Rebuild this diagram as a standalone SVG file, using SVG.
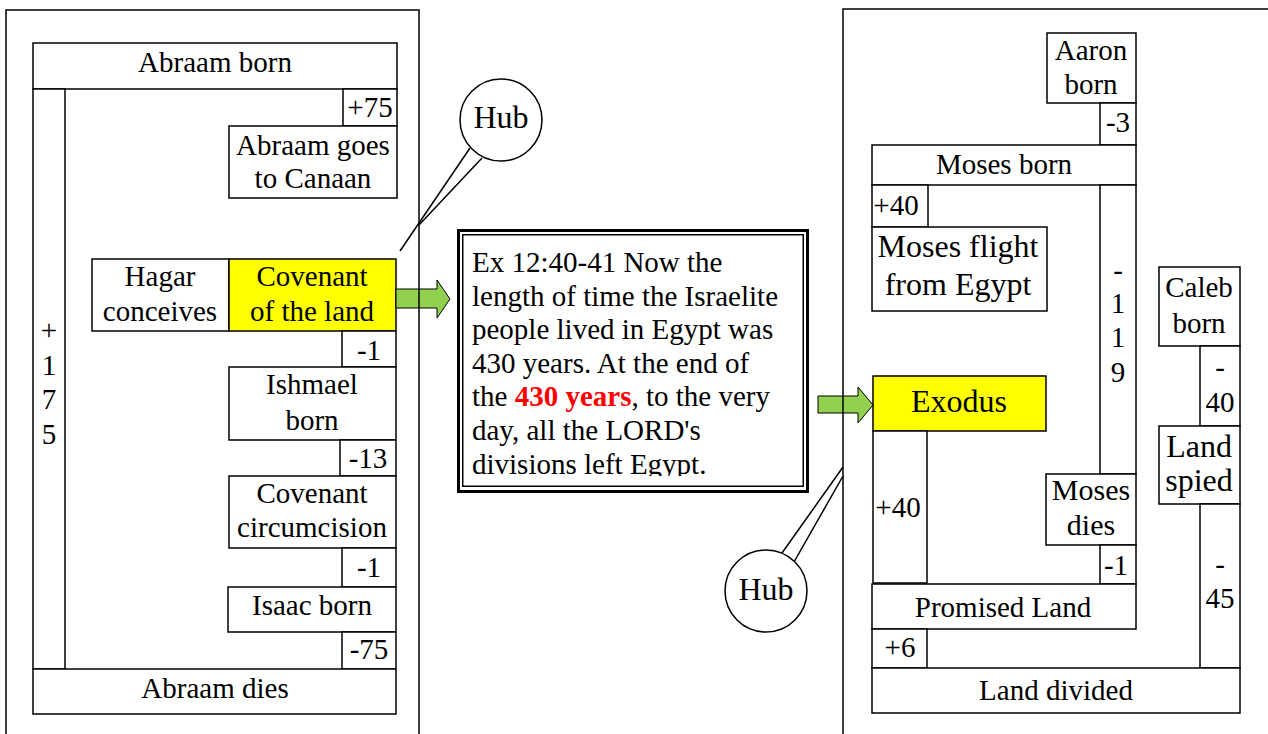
<svg xmlns="http://www.w3.org/2000/svg" width="1268" height="734" viewBox="0 0 1268 734">
<style>
text{font-family:"Liberation Serif","Times New Roman",serif;font-size:29px;fill:#000}
.c{text-anchor:middle}
.big{font-size:32px}
.b{fill:#fff;stroke:#000;stroke-width:1.5}
.y{fill:#ffff00;stroke:#000;stroke-width:1.5}
.f{fill:none;stroke:#000;stroke-width:1.5}
.ar{fill:#92d050;stroke:#000;stroke-width:1}
.ln{stroke:#000;stroke-width:1.5;fill:none}
.red{fill:#ff0000;font-weight:bold}
</style>
<defs>
<clipPath id="clipText"><rect x="463" y="235" width="340" height="241"/></clipPath>
</defs>
<rect width="1268" height="734" fill="#fff"/>

<g id="abraam-born"><rect class="b" x="33" y="43" width="364" height="46"/><text class="c" x="215" y="72">Abraam born</text></g>
<g id="bar-175"><rect class="b" x="33" y="89" width="32" height="580"/>
<text class="c" x="49" y="340">+</text><text class="c" x="49" y="375">1</text><text class="c" x="49" y="409">7</text><text class="c" x="49" y="444">5</text></g>
<g id="d75a"><rect class="b" x="343" y="89" width="54" height="37"/><text class="c" x="370" y="117">+75</text></g>
<g id="goes-canaan"><rect class="b" x="229" y="126" width="168" height="72"/><text class="c" x="313" y="155">Abraam goes</text><text class="c" x="313" y="188">to Canaan</text></g>
<g id="hagar"><rect class="b" x="92" y="259" width="137" height="72"/><text class="c" x="160" y="286">Hagar</text><text class="c" x="160" y="321">conceives</text></g>
<g id="cov-land"><rect class="y" x="229" y="259" width="167" height="72"/><text class="c" x="312" y="286">Covenant</text><text class="c" x="312" y="321">of the land</text></g>
<g id="d1a"><rect class="b" x="342" y="331" width="54" height="36"/><text class="c" x="369" y="360">-1</text></g>
<g id="ishmael"><rect class="b" x="229" y="367" width="167" height="73"/><text class="c" x="312" y="394">Ishmael</text><text class="c" x="312" y="430">born</text></g>
<g id="d13"><rect class="b" x="340" y="440" width="56" height="36"/><text class="c" x="368" y="468">-13</text></g>
<g id="cov-circ"><rect class="b" x="229" y="476" width="167" height="72"/><text class="c" x="312" y="503">Covenant</text><text class="c" x="312" y="537">circumcision</text></g>
<g id="d1b"><rect class="b" x="342" y="548" width="54" height="39"/><text class="c" x="369" y="577">-1</text></g>
<g id="isaac"><rect class="b" x="228" y="587" width="168" height="45"/><text class="c" x="312" y="615">Isaac born</text></g>
<g id="d75b"><rect class="b" x="342" y="632" width="54" height="37"/><text class="c" x="369" y="659">-75</text></g>
<g id="abraam-dies"><rect class="b" x="33" y="669" width="363" height="45"/><text class="c" x="215" y="698">Abraam dies</text></g>

<g id="hub-top">
<line class="ln" x1="470" y1="148" x2="400" y2="251"/>
<line class="ln" x1="482" y1="158" x2="419" y2="225"/>
<circle cx="501" cy="120" r="41" fill="#fff" stroke="#000" stroke-width="1.5"/>
<text class="c big" x="501" y="128">Hub</text>
</g>

<g id="quote">
<rect x="458.5" y="230.5" width="349" height="261" fill="#fff" stroke="#000" stroke-width="3"/>
<rect x="462.75" y="234.75" width="340.5" height="251.5" fill="none" stroke="#000" stroke-width="1.5"/>
<g clip-path="url(#clipText)">
<text x="472" y="272">Ex 12:40-41 Now the</text>
<text x="472" y="305.6">length of time the Israelite</text>
<text x="472" y="339.2">people lived in Egypt was</text>
<text x="472" y="372.8">430 years. At the end of</text>
<text x="472" y="406.4">the <tspan class="red">430 years</tspan>, to the very</text>
<text x="472" y="440">day, all the LORD's</text>
<text x="472" y="473.6">divisions left Egypt.</text>
</g>
</g>

<g id="aaron"><rect class="b" x="1047" y="33" width="89" height="70"/><text class="c" x="1091" y="60">Aaron</text><text class="c" x="1091" y="94">born</text></g>
<g id="d3"><rect class="b" x="1100" y="103" width="36" height="42"/><text class="c" x="1118" y="132">-3</text></g>
<g id="moses-born"><rect class="b" x="872" y="145" width="264" height="40"/><text class="c" x="1004" y="174">Moses born</text></g>
<g id="d40a"><rect class="b" x="872" y="185" width="56" height="42"/><text class="c" x="896" y="215">+40</text></g>
<g id="flight"><rect class="b" x="872" y="227" width="175" height="84"/><text class="c big" x="958" y="257">Moses flight</text><text class="c big" x="958" y="295">from Egypt</text></g>
<g id="bar-119"><rect class="b" x="1100" y="185" width="36" height="289"/>
<text class="c" x="1118" y="280">-</text><text class="c" x="1118" y="313">1</text><text class="c" x="1118" y="347">1</text><text class="c" x="1118" y="382">9</text></g>
<g id="caleb"><rect class="b" x="1159" y="267" width="81" height="79"/><text class="c" x="1199" y="297">Caleb</text><text class="c" x="1199" y="333">born</text></g>
<g id="bar-40"><rect class="b" x="1200" y="346" width="40" height="80"/><text class="c" x="1220" y="377">-</text><text class="c" x="1220" y="412">40</text></g>
<g id="land-spied"><rect class="b" x="1159" y="426" width="81" height="78"/><text class="c big" x="1199" y="457">Land</text><text class="c big" x="1199" y="491">spied</text></g>
<g id="bar-45"><rect class="b" x="1200" y="504" width="40" height="164"/><text class="c" x="1220" y="574">-</text><text class="c" x="1220" y="608">45</text></g>
<g id="exodus"><rect class="y" x="873" y="376" width="173" height="55"/><text class="c big" x="959" y="412">Exodus</text></g>
<g id="bar-40b"><rect class="b" x="873" y="431" width="54" height="152"/><text class="c" x="898" y="517">+40</text></g>
<g id="moses-dies"><rect class="b" x="1046" y="474" width="90" height="71"/><text class="c" x="1091" y="500" style="font-size:30px">Moses</text><text class="c" x="1091" y="535" style="font-size:30px">dies</text></g>
<g id="d1c"><rect class="b" x="1100" y="545" width="36" height="39"/><text class="c" x="1116" y="575">-1</text></g>
<g id="promised"><rect class="b" x="872" y="584" width="264" height="45"/><text class="c" x="1003" y="617">Promised Land</text></g>
<g id="d6"><rect class="b" x="872" y="629" width="55" height="39"/><text class="c" x="900" y="657">+6</text></g>
<g id="land-divided"><rect class="b" x="872" y="668" width="368" height="45"/><text class="c" x="1056" y="700">Land divided</text></g>

<g id="hub-bottom">
<line class="ln" x1="782" y1="553" x2="843" y2="467"/>
<line class="ln" x1="794" y1="562" x2="843" y2="476"/>
<circle cx="766" cy="591" r="41" fill="#fff" stroke="#000" stroke-width="1.5"/>
<text class="c big" x="766" y="600">Hub</text>
</g>

<g id="connectors">
<path class="ar" d="M396,289 H437 V280 L450,299 L437,318 V308 H396 Z"/>
<path class="ar" d="M818,396 H858 V387 L873,405 L858,423 V413 H818 Z"/>
</g>

<g id="frame-left"><rect class="f" x="6" y="10" width="413" height="800"/></g>
<g id="frame-right"><rect class="f" x="843" y="9" width="500" height="800"/></g>
</svg>
